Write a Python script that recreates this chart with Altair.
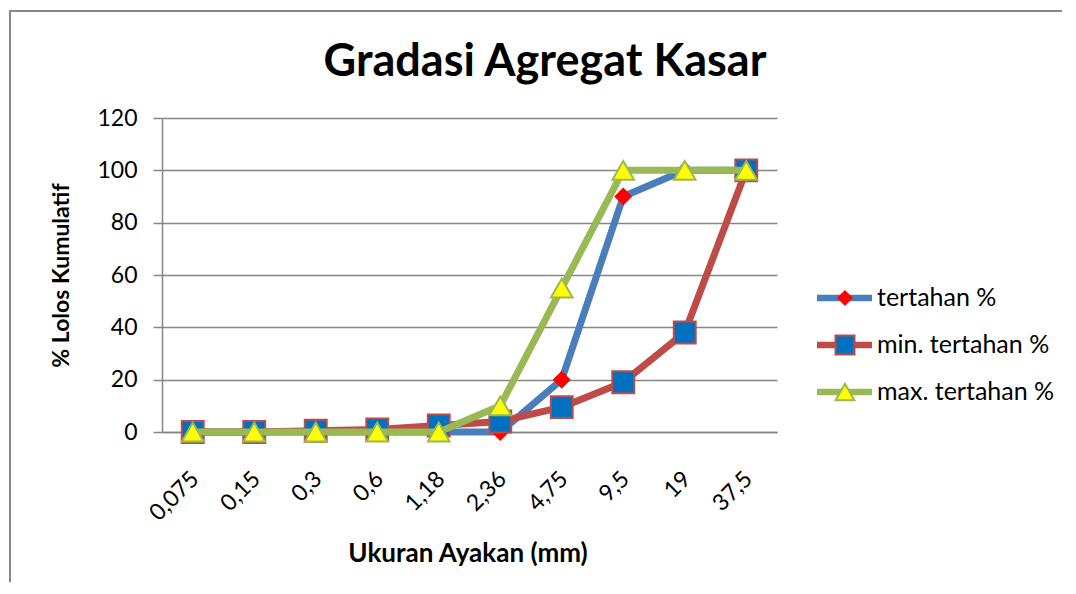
import altair as alt
import pandas as pd

# ---- data ----
ukuran = ["0,075", "0,15", "0,3", "0,6", "1,18", "2,36", "4,75", "9,5", "19", "37,5"]
tertahan = [0, 0, 0, 0, 0, 0, 20, 90, 100, 100]
min_tertahan = [0, 0, 0.5, 1, 2.5, 4, 9.5, 19, 38, 100]
max_tertahan = [0, 0, 0, 0, 0, 10, 55, 100, 100, 100]

series_names = ["tertahan %", "min. tertahan %", "max. tertahan %"]
series_values = [tertahan, min_tertahan, max_tertahan]
line_colors = ["#4A7EBB", "#BE4B48", "#98B954"]
marker_shapes = ["diamond", "square", "triangle-up"]
marker_fills = ["#FF0000", "#0070C0", "#FFFF00"]
marker_strokes = ["#FF0000", "#BE4B48", "#98B954"]
marker_sizes = [230, 480, 470]

FONT = "Lato"
W, H = 615, 314

rows = []
for name, vals in zip(series_names, series_values):
    for u, v in zip(ukuran, vals):
        rows.append({"ukuran": u, "series": name, "value": v})
df = pd.DataFrame(rows)

x_enc = alt.X(
    "ukuran:N",
    sort=ukuran,
    scale=alt.Scale(type="point", padding=0.5),
    axis=alt.Axis(
        title="Ukuran Ayakan (mm)",
        titleFont=FONT, titleFontSize=26, titleFontWeight="bold", titleColor="#000000",
        titleX=W / 2 - 2, titleY=129, titleBaseline="alphabetic", titleAnchor="middle",
        labelAngle=-45, labelAlign="right", labelBaseline="middle",
        labelFont=FONT, labelFontSize=23, labelColor="#000000",
        labelPadding=43, labelOffset=2,
        ticks=False, grid=False, domainColor="#868686", domainWidth=1.5,
    ),
)
y_enc = alt.Y(
    "value:Q",
    scale=alt.Scale(domain=[0, 120], nice=False, zero=True),
    axis=alt.Axis(
        title="% Lolos Kumulatif",
        titleFont=FONT, titleFontSize=23, titleFontWeight="bold", titleColor="#000000",
        titleAngle=-90, titleX=-94, titleY=H / 2, titleBaseline="alphabetic", titleAnchor="middle",
        values=[0, 20, 40, 60, 80, 100, 120],
        labelFont=FONT, labelFontSize=23, labelColor="#000000", labelPadding=16,
        tickSize=9, tickColor="#868686", tickWidth=1.5,
        gridColor="#868686", gridWidth=1.5,
        domainColor="#868686", domainWidth=1.5,
    ),
)

layers = []
for i, name in enumerate(series_names):
    sub = alt.Chart(df).transform_filter(alt.datum.series == name)
    layers.append(
        sub.mark_line(color=line_colors[i], strokeWidth=7, strokeJoin="round")
        .encode(x=x_enc, y=y_enc)
    )
    layers.append(
        sub.mark_point(
            shape=marker_shapes[i], size=marker_sizes[i], filled=True,
            fill=marker_fills[i], stroke=marker_strokes[i], strokeWidth=2, opacity=1,
        ).encode(x=x_enc, y=y_enc)
    )

data_layer = alt.layer(*layers)

# ---- custom legend (line with marker), one entry per series ----
LEG_TOP, LEG_STEP = 180, 47
leg_layers = []
for i, name in enumerate(series_names):
    s = alt.Chart(pd.DataFrame({"series": [name]}))
    ly = alt.value(LEG_TOP + i * LEG_STEP)
    leg_layers.append(
        s.mark_rule(color=line_colors[i], strokeWidth=6.5)
        .encode(x=alt.value(655), x2=alt.value(710), y=ly)
    )
    leg_layers.append(
        s.mark_point(shape=marker_shapes[i], size=marker_sizes[i] * 0.75, filled=True,
                     fill=marker_fills[i], stroke=marker_strokes[i], strokeWidth=2, opacity=1)
        .encode(x=alt.value(683), y=ly)
    )
    leg_layers.append(
        s.mark_text(align="left", baseline="middle", font=FONT, fontSize=25, color="#000000")
        .encode(x=alt.value(715), y=ly, text="series:N")
    )
legend_layer = alt.layer(*leg_layers)

# ---- title and outer chart border ----
title_df = pd.DataFrame({"t": ["Gradasi Agregat Kasar"]})
title = alt.Chart(title_df).mark_text(
    font=FONT, fontSize=45, fontWeight="bold", color="#000000", align="center", baseline="alphabetic"
).encode(x=alt.value(383), y=alt.value(-42), text="t:N")

border = alt.Chart(pd.DataFrame({"a": [0]})).mark_rect(
    fill=None, stroke="#888888", strokeWidth=2
).encode(x=alt.value(-152), x2=alt.value(960), y=alt.value(-107), y2=alt.value(520))

chart = (
    alt.layer(border, title, data_layer, legend_layer)
    .properties(
        width=W, height=H,
        autosize=alt.AutoSizeParams(type="none"),
        padding={"left": 154, "top": 110, "right": 285, "bottom": 150},
    )
    .configure_view(stroke=None)
)

chart.save("out.html", embed_options={"renderer": "svg", "actions": False})
